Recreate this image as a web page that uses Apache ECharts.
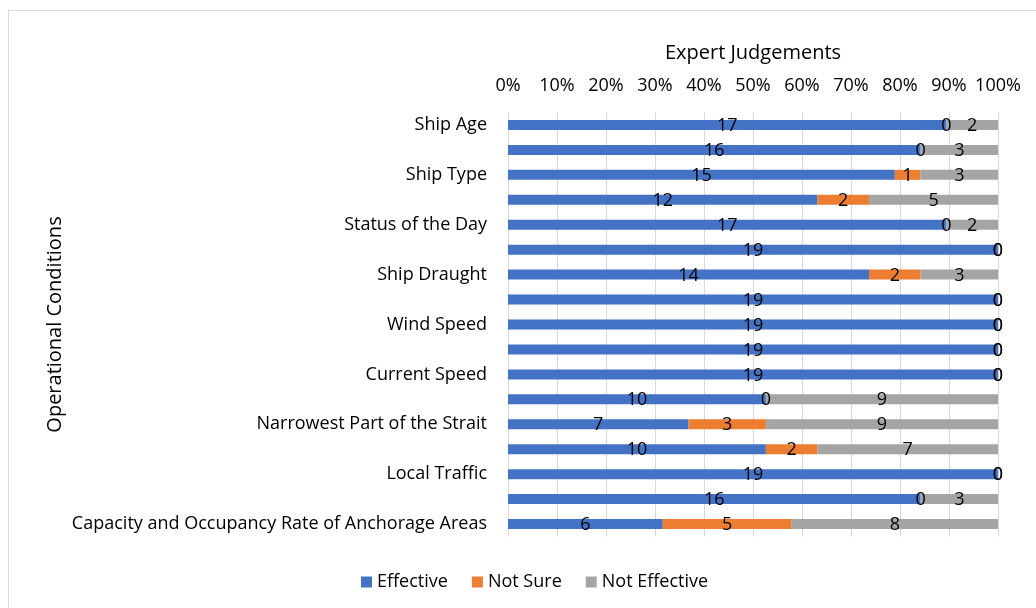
<!DOCTYPE html>
<html>
<head>
<meta charset="utf-8">
<script src="https://cdn.jsdelivr.net/npm/echarts@6/dist/echarts.min.js"></script>
<style>
  html, body { margin: 0; padding: 0; background: #fff; }
  #frame { position: absolute; left: 8px; top: 10px; width: 1040px; height: 610px; border: 1px solid #d9d9d9; box-sizing: border-box; }
  #chart { width: 1036px; height: 608px; position: absolute; left: 0; top: 0; }
</style>
</head>
<body>
<div id="frame"></div>
<div id="chart"></div>
<script>
// Operational conditions, top to bottom (labels on every other row are shown)
const conditions = [
  'Ship Age', 'Ship Length', 'Ship Type', 'Ship Flag', 'Status of the Day',
  'Visibility', 'Ship Draught', 'Ship Speed', 'Wind Speed', 'Wave Height',
  'Current Speed', 'Tidal Condition', 'Narrowest Part of the Strait',
  'Sharp Turns', 'Local Traffic', 'Transit Traffic',
  'Capacity and Occupancy Rate of Anchorage Areas'
];

// Number of expert judgements per condition
const effective    = [17, 16, 15, 12, 17, 19, 14, 19, 19, 19, 19, 10, 7, 10, 19, 16, 6];
const notSure      = [ 0,  0,  1,  2,  0,  0,  2,  0,  0,  0,  0,  0, 3,  2,  0,  0, 5];
const notEffective = [ 2,  3,  3,  5,  2,  0,  3,  0,  0,  0,  0,  9, 9,  7,  0,  3, 8];

const seriesNames = ['Effective', 'Not Sure', 'Not Effective'];
const seriesColors = ['#4472C4', '#ED7D31', '#A5A5A5'];
const percentTicks = ['0%', '10%', '20%', '30%', '40%', '50%', '60%', '70%', '80%', '90%', '100%'];

const FONT = 'Open Sans';
const SIZE = 18;
const totals = effective.map((v, i) => v + notSure[i] + notEffective[i]);

function toPercentData(counts) {
  return counts.map((v, i) => ({ value: v / totals[i] * 100, count: v }));
}

const chart = echarts.init(document.getElementById('chart'), null, { renderer: 'canvas' });

const series = [effective, notSure, notEffective].map((counts, k) => ({
  name: seriesNames[k],
  type: 'bar',
  stack: 'total',
  barWidth: 10,
  itemStyle: { color: seriesColors[k] },
  label: {
    show: true,
    position: 'inside',
    offset: [0, 1],
    color: '#000',
    fontFamily: FONT,
    fontSize: SIZE,
    formatter: p => String(p.data.count)
  },
  emphasis: { disabled: true },
  data: toPercentData(counts)
}));

chart.setOption({
  animation: false,
  textStyle: { fontFamily: FONT },
  legend: {
    data: seriesNames,
    bottom: 12,
    left: 356,
    itemWidth: 11,
    itemHeight: 11,
    itemGap: 24,
    icon: 'rect',
    textStyle: { fontFamily: FONT, fontSize: SIZE, color: '#000' }
  },
  grid: { left: 508, right: 38, top: 112.5, bottom: 71.5, containLabel: false },
  xAxis: {
    type: 'value',
    position: 'top',
    min: 0,
    max: 100,
    interval: 10,
    name: 'Expert Judgements',
    nameLocation: 'middle',
    nameGap: 49,
    nameTextStyle: { fontFamily: FONT, fontSize: 20, color: '#000' },
    axisLine: { show: false },
    axisTick: { show: false },
    axisLabel: {
      margin: 18,
      fontFamily: FONT,
      fontSize: SIZE,
      color: '#000',
      formatter: v => percentTicks[Math.round(v / 10)]
    },
    splitLine: { show: true, lineStyle: { color: '#d9d9d9', width: 1 } }
  },
  yAxis: {
    type: 'category',
    inverse: true,
    data: conditions,
    name: 'Operational Conditions',
    nameLocation: 'middle',
    nameRotate: 90,
    nameGap: 443,
    nameTextStyle: { fontFamily: FONT, fontSize: 20, color: '#000' },
    axisLine: { show: false },
    axisTick: { show: false },
    axisLabel: {
      interval: 1,
      margin: 21,
      fontFamily: FONT,
      fontSize: SIZE,
      color: '#000'
    }
  },
  series: series
});
</script>
</body>
</html>
